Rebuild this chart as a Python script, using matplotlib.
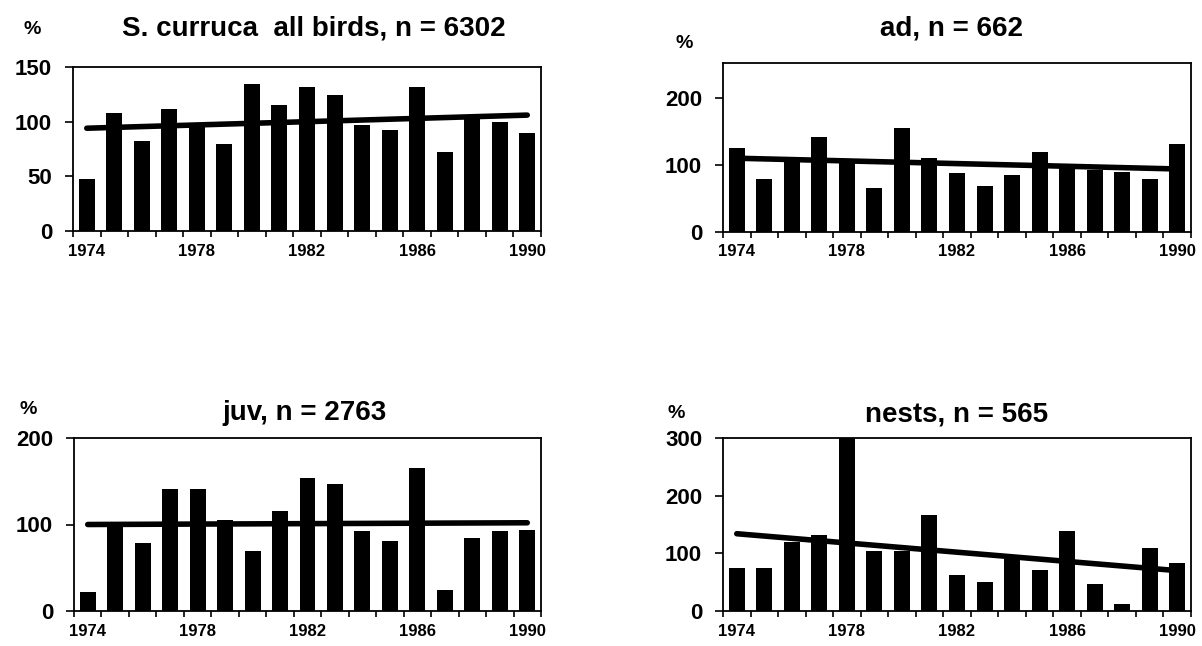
import numpy as np
import matplotlib
matplotlib.use("Agg")
import matplotlib.pyplot as plt

plt.rcParams['font.family'] = ['Liberation Sans', 'DejaVu Sans']
plt.rcParams['font.weight'] = 'bold'

# yearly index values (% of mean)
years = list(range(1974, 1991))
all_birds = [48, 108, 82, 112, 96, 80, 134, 115, 132, 124, 97, 92, 132, 72, 102, 100, 90]
adults = [125, 79, 106, 142, 103, 65, 155, 110, 88, 68, 85, 120, 95, 93, 89, 79, 131]
juveniles = [22, 103, 79, 141, 141, 105, 69, 116, 154, 147, 92, 81, 165, 24, 84, 92, 94]
nests = [74, 74, 120, 132, 300, 104, 104, 167, 62, 50, 90, 71, 138, 46, 13, 110, 84]

# trend line end values (1974, 1990)
trend_all = [94, 106]
trend_ad = [110, 94]
trend_juv = [100, 102]
trend_nests = [134, 70]

titles = ["S. curruca  all birds, n = 6302", "ad, n = 662", "juv, n = 2763", "nests, n = 565"]
year_labels = [1974, 1978, 1982, 1986, 1990]

W, H = 1202, 646
fig = plt.figure(figsize=(W / 100, H / 100), dpi=100)


def px_rect(left, top, right, bottom):
    return [left / W, 1 - bottom / H, (right - left) / W, (bottom - top) / H]


panels = [
    # values, trend, title, rect, ylim, yticks, title xy, % xy
    (all_birds, trend_all, titles[0], px_rect(73, 67, 541, 231), 150, [0, 50, 100, 150], (314, 28), (32, 30)),
    (adults, trend_ad, titles[1], px_rect(723, 63, 1191, 232), 252, [0, 100, 200], (952, 28), (684, 44)),
    (juveniles, trend_juv, titles[2], px_rect(74, 438, 541, 611), 200, [0, 100, 200], (304, 413), (28, 410)),
    (nests, trend_nests, titles[3], px_rect(723, 438, 1191, 611), 300, [0, 100, 200, 300], (957, 414), (676, 414)),
]

for values, trend, title, rect, ytop, yticks, txy, pxy in panels:
    ax = fig.add_axes(rect)
    ax.bar(years, values, width=0.58, color='black', zorder=2)
    ax.plot([years[0], years[-1]], trend, color='black', lw=4, solid_capstyle='round', zorder=3)
    ax.set_xlim(1973.5, 1990.5)
    ax.set_ylim(0, ytop)
    ax.set_yticks(yticks)
    ax.set_yticklabels([str(v) for v in yticks], fontsize=16, fontweight='bold')
    ax.set_xticks(year_labels)
    ax.set_xticklabels([str(v) for v in year_labels], fontsize=12, fontweight='bold')
    ax.set_xticks(np.arange(1973.5, 1991, 1), minor=True)
    ax.tick_params(axis='x', which='major', length=0, pad=9)
    ax.tick_params(axis='x', which='minor', direction='out', length=4, width=1.2)
    ax.tick_params(axis='y', direction='out', length=6, width=1.2, pad=9)
    for s in ax.spines.values():
        s.set_linewidth(1.3)
    fig.text(txy[0] / W, 1 - txy[1] / H, title, ha='center', va='center',
             fontsize=20, fontweight='bold')
    fig.text(pxy[0] / W, 1 - pxy[1] / H, "%", ha='center', va='center',
             fontsize=14, fontweight='bold')

fig.savefig("out.png", dpi=100)
